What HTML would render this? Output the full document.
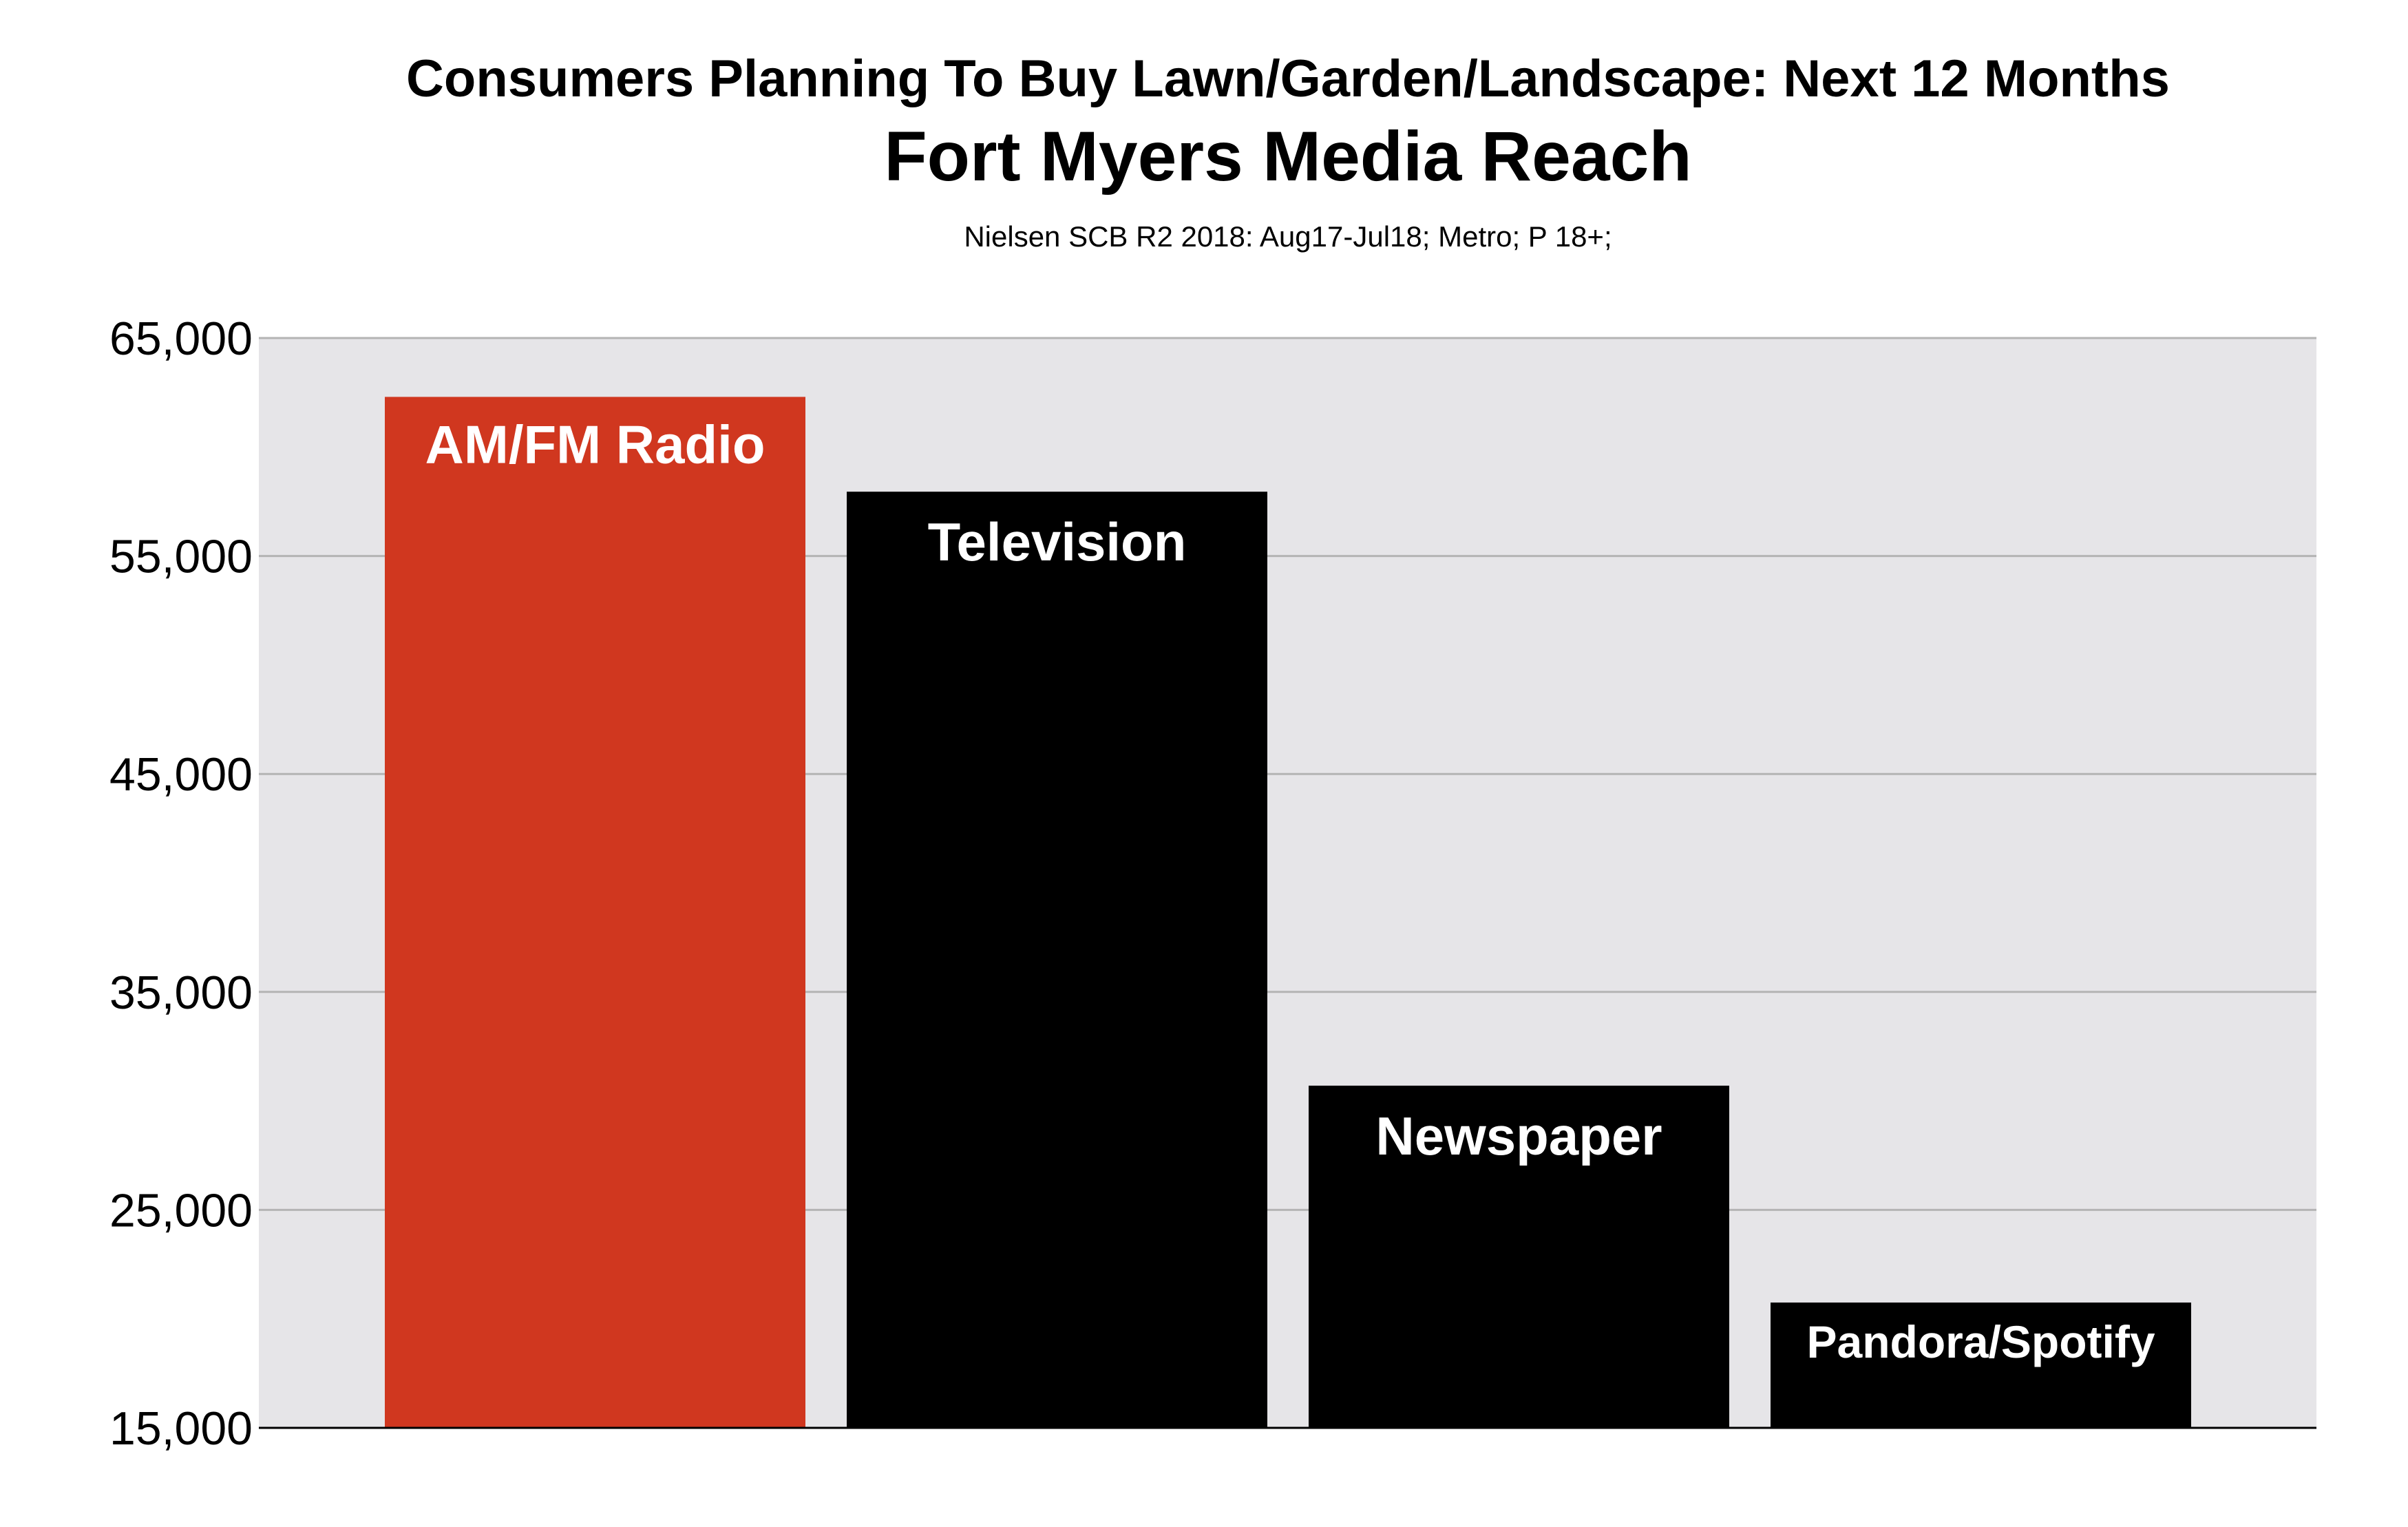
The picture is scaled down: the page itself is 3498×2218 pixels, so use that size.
<!DOCTYPE html>
<html><head><meta charset="utf-8"><style>
html,body{margin:0;padding:0;background:#fff;}
svg{display:block;font-family:"Liberation Sans",Arial,sans-serif;}
</style></head><body>
<svg id="chart" width="3498" height="2218" viewBox="0 0 3498 2218" xmlns="http://www.w3.org/2000/svg">
<text x="1871" y="140" text-anchor="middle" font-size="76" font-weight="bold">Consumers Planning To Buy Lawn/Garden/Landscape: Next 12 Months</text>
<text x="1871" y="262" text-anchor="middle" font-size="102" font-weight="bold">Fort Myers Media Reach</text>
<text x="1871" y="358" text-anchor="middle" font-size="42">Nielsen SCB R2 2018: Aug17-Jul18; Metro; P 18+;</text>
<rect x="376" y="491" width="2989" height="1583" fill="#e6e5e8"/>
<g id="grid"></g><g id="bars"></g><g id="labels"></g>
<line x1="376" y1="2074" x2="3365" y2="2074" stroke="#000" stroke-width="3"/>
</svg>
<script>
const categories=["AM/FM Radio","Television","Newspaper","Pandora/Spotify"];
const values=[62300,57950,30700,20750];
const colors=["#d0371f","#000","#000","#000"];
const ticks=[15000,25000,35000,45000,55000,65000];
const tickLabels=["15,000","25,000","35,000","45,000","55,000","65,000"];
const NS="http://www.w3.org/2000/svg";
const x0=376,x1=3365,yTop=491,yBot=2074,vMin=15000,vMax=65000;
function y(v){return yBot-(v-vMin)/(vMax-vMin)*(yBot-yTop);}
function bx(i){return 559+i*671;}
const bw=611;
const g=document.getElementById('grid'),b=document.getElementById('bars'),l=document.getElementById('labels');
ticks.forEach((t,i)=>{
 if(t!==vMin){const ln=document.createElementNS(NS,'line');
 
 
 ln.setAttribute('x1',x0);ln.setAttribute('x2',x1);ln.setAttribute('y1',y(t));ln.setAttribute('y2',y(t));
 ln.setAttribute('stroke','#b4b4b4');ln.setAttribute('stroke-width','3');g.appendChild(ln);}
 const tx=document.createElementNS(NS,'text');
 
 
 tx.setAttribute('x',367);tx.setAttribute('y',y(t)+24);tx.setAttribute('text-anchor','end');tx.setAttribute('font-size','68');
 tx.textContent=tickLabels[i];g.appendChild(tx);
});
categories.forEach((c,i)=>{
 const r=document.createElementNS(NS,'rect');
 
 
 r.setAttribute('x',bx(i));r.setAttribute('y',y(values[i]));r.setAttribute('width',bw);r.setAttribute('height',yBot-y(values[i]));
 r.setAttribute('fill',colors[i]);b.appendChild(r);
 const t=document.createElementNS(NS,'text');
 
 
 const fs=i===3?66:78;
 t.setAttribute('x',bx(i)+bw/2);t.setAttribute('y',y(values[i])+(i===0?96:i===3?80:100));
 t.setAttribute('text-anchor','middle');t.setAttribute('font-size',fs);t.setAttribute('font-weight','bold');t.setAttribute('fill','#fff');
 t.textContent=c;l.appendChild(t);
});
</script>
</body></html>
